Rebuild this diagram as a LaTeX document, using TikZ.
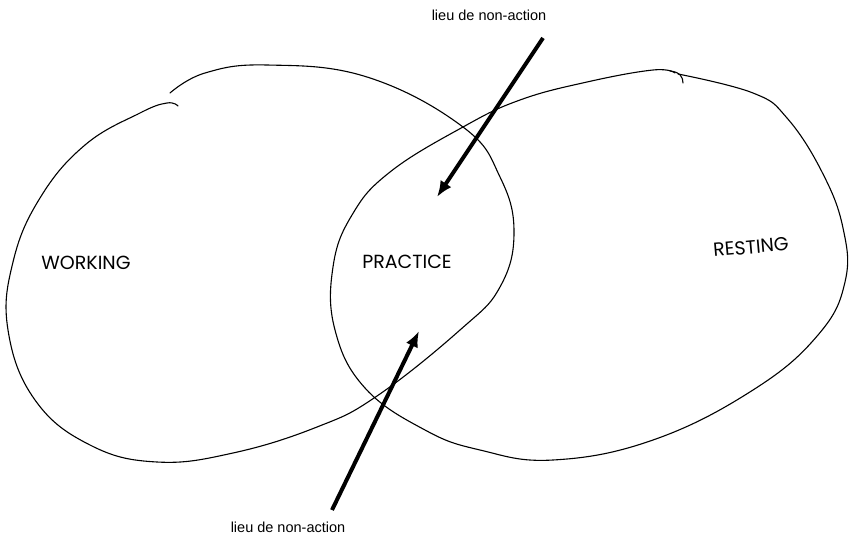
\documentclass[tikz,border=0pt]{standalone}
\usepackage{fontspec}
\setmainfont{Liberation Sans}
\newfontfamily\handfont{Poppins}
\usetikzlibrary{arrows.meta}
\begin{document}
\begin{tikzpicture}[x=1pt, y=-1pt,
    sketch/.style={line width=1.1pt, line cap=round, line join=round},
    pointer/.style={line width=4pt, -{Latex[length=16pt, width=13pt]}},
    hand/.style={font=\handfont\fontsize{19}{19}\selectfont, inner sep=0pt},
    remark/.style={font=\fontsize{14.5}{15}\selectfont, inner sep=0pt}]
      \useasboundingbox (0,0) rectangle (849,536);
      \draw[sketch] plot[smooth, tension=0.7] coordinates {(170,93) (205,73) (267,65) (367,77) (463,127) (500,177) (514,232) (500,287) (460,330) (377,396) (317,427) (233,453) (157,462) (90,445) (35,400) (8,330) (13,262) (40,198) (85,145) (140,113) (167,103) (178,106)};
      \draw[sketch] plot[smooth, tension=0.7] coordinates {(678,74) (753,93) (787,118) (822,172) (843,228) (845,282) (818,335) (753,390) (653,440) (553,460) (480,450) (425,430) (365,388) (335,330) (333,267) (352,215) (390,172) (463,127) (520,100) (587,82) (653,70) (675,73)};
      \draw[sketch] (670,71) .. controls (680,72) and (683,77) .. (683,83);
      \node[hand] (working) at (86,263) {WORKING};
      \node[hand] (practice) at (407,262) {PRACTICE};
      \node[hand, rotate=5] (resting) at (751,247) {RESTING};
      \node[remark] (top label) at (489,15) {lieu de non-action};
      \node[remark] (bottom label) at (288,527) {lieu de non-action};
      \coordinate (top tail) at (543,38);
      \coordinate (top tip) at (437,197);
      \coordinate (bottom tail) at (332,510);
      \coordinate (bottom tip) at (419,331);
      \draw[pointer] (top tail) -- (top tip);
      \draw[pointer] (bottom tail) -- (bottom tip);
    \end{tikzpicture}
\end{document}
